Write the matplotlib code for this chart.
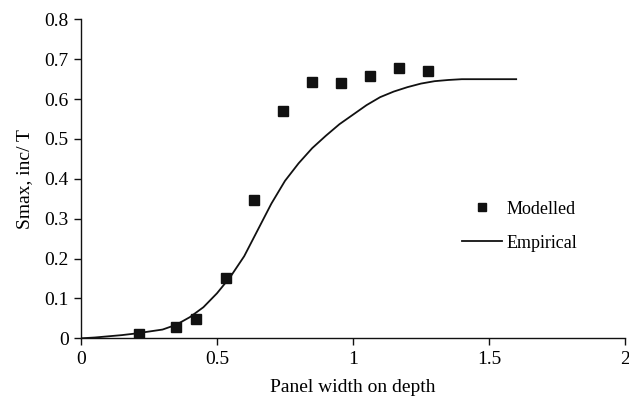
import matplotlib
matplotlib.use("Agg")
import matplotlib.pyplot as plt

# modelled points
mod_x = [0.212, 0.348, 0.424, 0.532, 0.636, 0.743, 0.850, 0.957, 1.063, 1.169, 1.275]
mod_y = [0.011, 0.028, 0.049, 0.151, 0.348, 0.569, 0.643, 0.641, 0.659, 0.677, 0.671]

# empirical curve
emp_x = [0.0, 0.05, 0.1, 0.15, 0.2, 0.25, 0.3, 0.35, 0.4, 0.45, 0.5, 0.55, 0.6, 0.65,
         0.7, 0.75, 0.8, 0.85, 0.9, 0.95, 1.0, 1.05, 1.1, 1.15, 1.2, 1.25, 1.3, 1.35,
         1.4, 1.5, 1.6]
emp_y = [0.0, 0.002, 0.005, 0.008, 0.012, 0.017, 0.022, 0.034, 0.053, 0.078, 0.113,
         0.155, 0.206, 0.272, 0.338, 0.395, 0.439, 0.477, 0.508, 0.537, 0.561, 0.585,
         0.605, 0.619, 0.630, 0.639, 0.645, 0.648, 0.650, 0.650, 0.650]

x_ticks = [0, 0.5, 1, 1.5, 2]
x_labels = ["0", "0.5", "1", "1.5", "2"]
y_ticks = [0, 0.1, 0.2, 0.3, 0.4, 0.5, 0.6, 0.7, 0.8]
y_labels = ["0", "0.1", "0.2", "0.3", "0.4", "0.5", "0.6", "0.7", "0.8"]

plt.rcParams["font.family"] = ["Liberation Serif", "DejaVu Serif"]

fig = plt.figure(figsize=(6.29, 4.04), dpi=100)
ax = fig.add_axes([0.1288, 0.1626, 0.8648, 0.7894])

ax.plot(mod_x, mod_y, linestyle="none", marker="s", markersize=7.5,
        color="#111111", label="Modelled")
ax.plot(emp_x, emp_y, color="#111111", linewidth=1.3, label="Empirical")

ax.set_xlim(0, 2)
ax.set_ylim(0, 0.8)
ax.set_xticks(x_ticks)
ax.set_xticklabels(x_labels)
ax.set_yticks(y_ticks)
ax.set_yticklabels(y_labels)
ax.tick_params(labelsize=14, length=5, width=1, direction="out", color="#111111", pad=4)
for s in ["top", "right"]:
    ax.spines[s].set_visible(False)
for s in ["left", "bottom"]:
    ax.spines[s].set_linewidth(1)
    ax.spines[s].set_color("#111111")

ax.set_xlabel("Panel width on depth", fontsize=14, labelpad=8)
ax.set_ylabel("Smax, inc/ T", fontsize=14, labelpad=8)

leg = ax.legend(loc="upper left", bbox_to_anchor=(0.70, 0.432), frameon=False,
                fontsize=13, handlelength=2.2, handletextpad=0.25,
                labelspacing=0.95, borderpad=0, borderaxespad=0, markerscale=0.8)

fig.savefig("out.png", dpi=100, facecolor="white")
